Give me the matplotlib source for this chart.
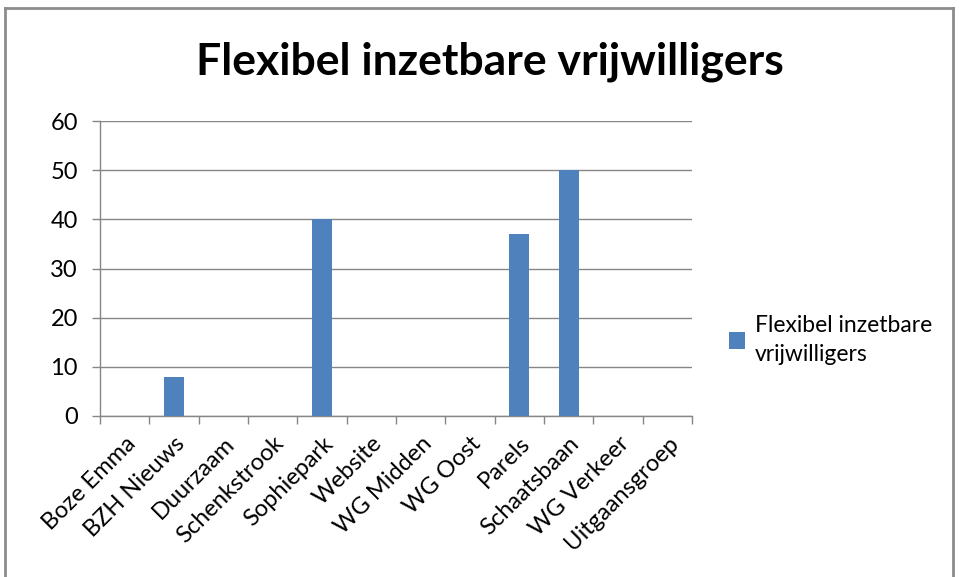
import matplotlib

matplotlib.use("Agg")

import matplotlib.pyplot as plt
from matplotlib.lines import Line2D
from matplotlib.patches import Patch

plt.rcParams["font.family"] = ["Lato", "DejaVu Sans"]

CATEGORIES = [
    "Boze Emma", "BZH Nieuws", "Duurzaam", "Schenkstrook", "Sophiepark", "Website",
    "WG Midden", "WG Oost", "Parels", "Schaatsbaan", "WG Verkeer", "Uitgaansgroep",
]
VALUES = [0, 8, 0, 0, 40, 0, 0, 0, 37, 50, 0, 0]
SERIES = "Flexibel inzetbare vrijwilligers"
YTICKS = [0, 10, 20, 30, 40, 50, 60]

BAR = "#4F81BD"
GRID = "#868686"

W, H = 959, 577
fig = plt.figure(figsize=(W / 100, H / 100), dpi=100)
ax = fig.add_axes([100 / W, 1 - 416 / H, 592 / W, 295 / H])

x = list(range(len(CATEGORIES)))
ax.bar(x, VALUES, width=0.4, color=BAR, zorder=3)
ax.set_xlim(-0.5, len(CATEGORIES) - 0.5)
ax.set_ylim(0, 60)
ax.set_yticks(YTICKS)
ax.grid(axis="y", color=GRID, linewidth=1.0, zorder=0)
for sp in ("top", "right"):
    ax.spines[sp].set_visible(False)
for sp in ("left", "bottom"):
    ax.spines[sp].set_color(GRID)
    ax.spines[sp].set_linewidth(1.0)

# ticks between categories, labels at category centres
ax.set_xticks([i - 0.5 for i in range(len(CATEGORIES) + 1)])
ax.set_xticklabels([])
ax.set_xticks(x, minor=True)
ax.set_xticklabels(CATEGORIES, minor=True, rotation=45, ha="right", rotation_mode="anchor", fontsize=17)
ax.tick_params(axis="x", which="major", length=6, color=GRID, width=1.0)
ax.tick_params(axis="x", which="minor", length=0, pad=12)
ax.tick_params(axis="y", length=6, color=GRID, width=1.0, labelsize=17, pad=10)

fig.text(490 / W, 1 - 62 / H, SERIES, ha="center", va="center", fontsize=32, fontweight="bold")

leg = fig.legend(
    handles=[Patch(facecolor=BAR, edgecolor="none", label="Flexibel inzetbare\nvrijwilligers")],
    loc="center left",
    bbox_to_anchor=(708 / W, 1 - 340 / H),
    frameon=False,
    fontsize=16.5,
    handlelength=0.7,
    handleheight=0.7,
    handletextpad=0.45,
)
for t in leg.get_texts():
    t.set_linespacing(1.45)

# chart-area border
bc = "#8C8C8C"
fig.add_artist(Line2D([5 / W, 5 / W], [0, 1 - 8 / H], color=bc, linewidth=2, transform=fig.transFigure))
fig.add_artist(Line2D([5 / W, 953 / W], [1 - 8 / H, 1 - 8 / H], color=bc, linewidth=2, transform=fig.transFigure))
fig.add_artist(Line2D([953 / W, 953 / W], [0, 1 - 8 / H], color=bc, linewidth=2, transform=fig.transFigure))

fig.savefig("out.png", dpi=100, facecolor="white")
